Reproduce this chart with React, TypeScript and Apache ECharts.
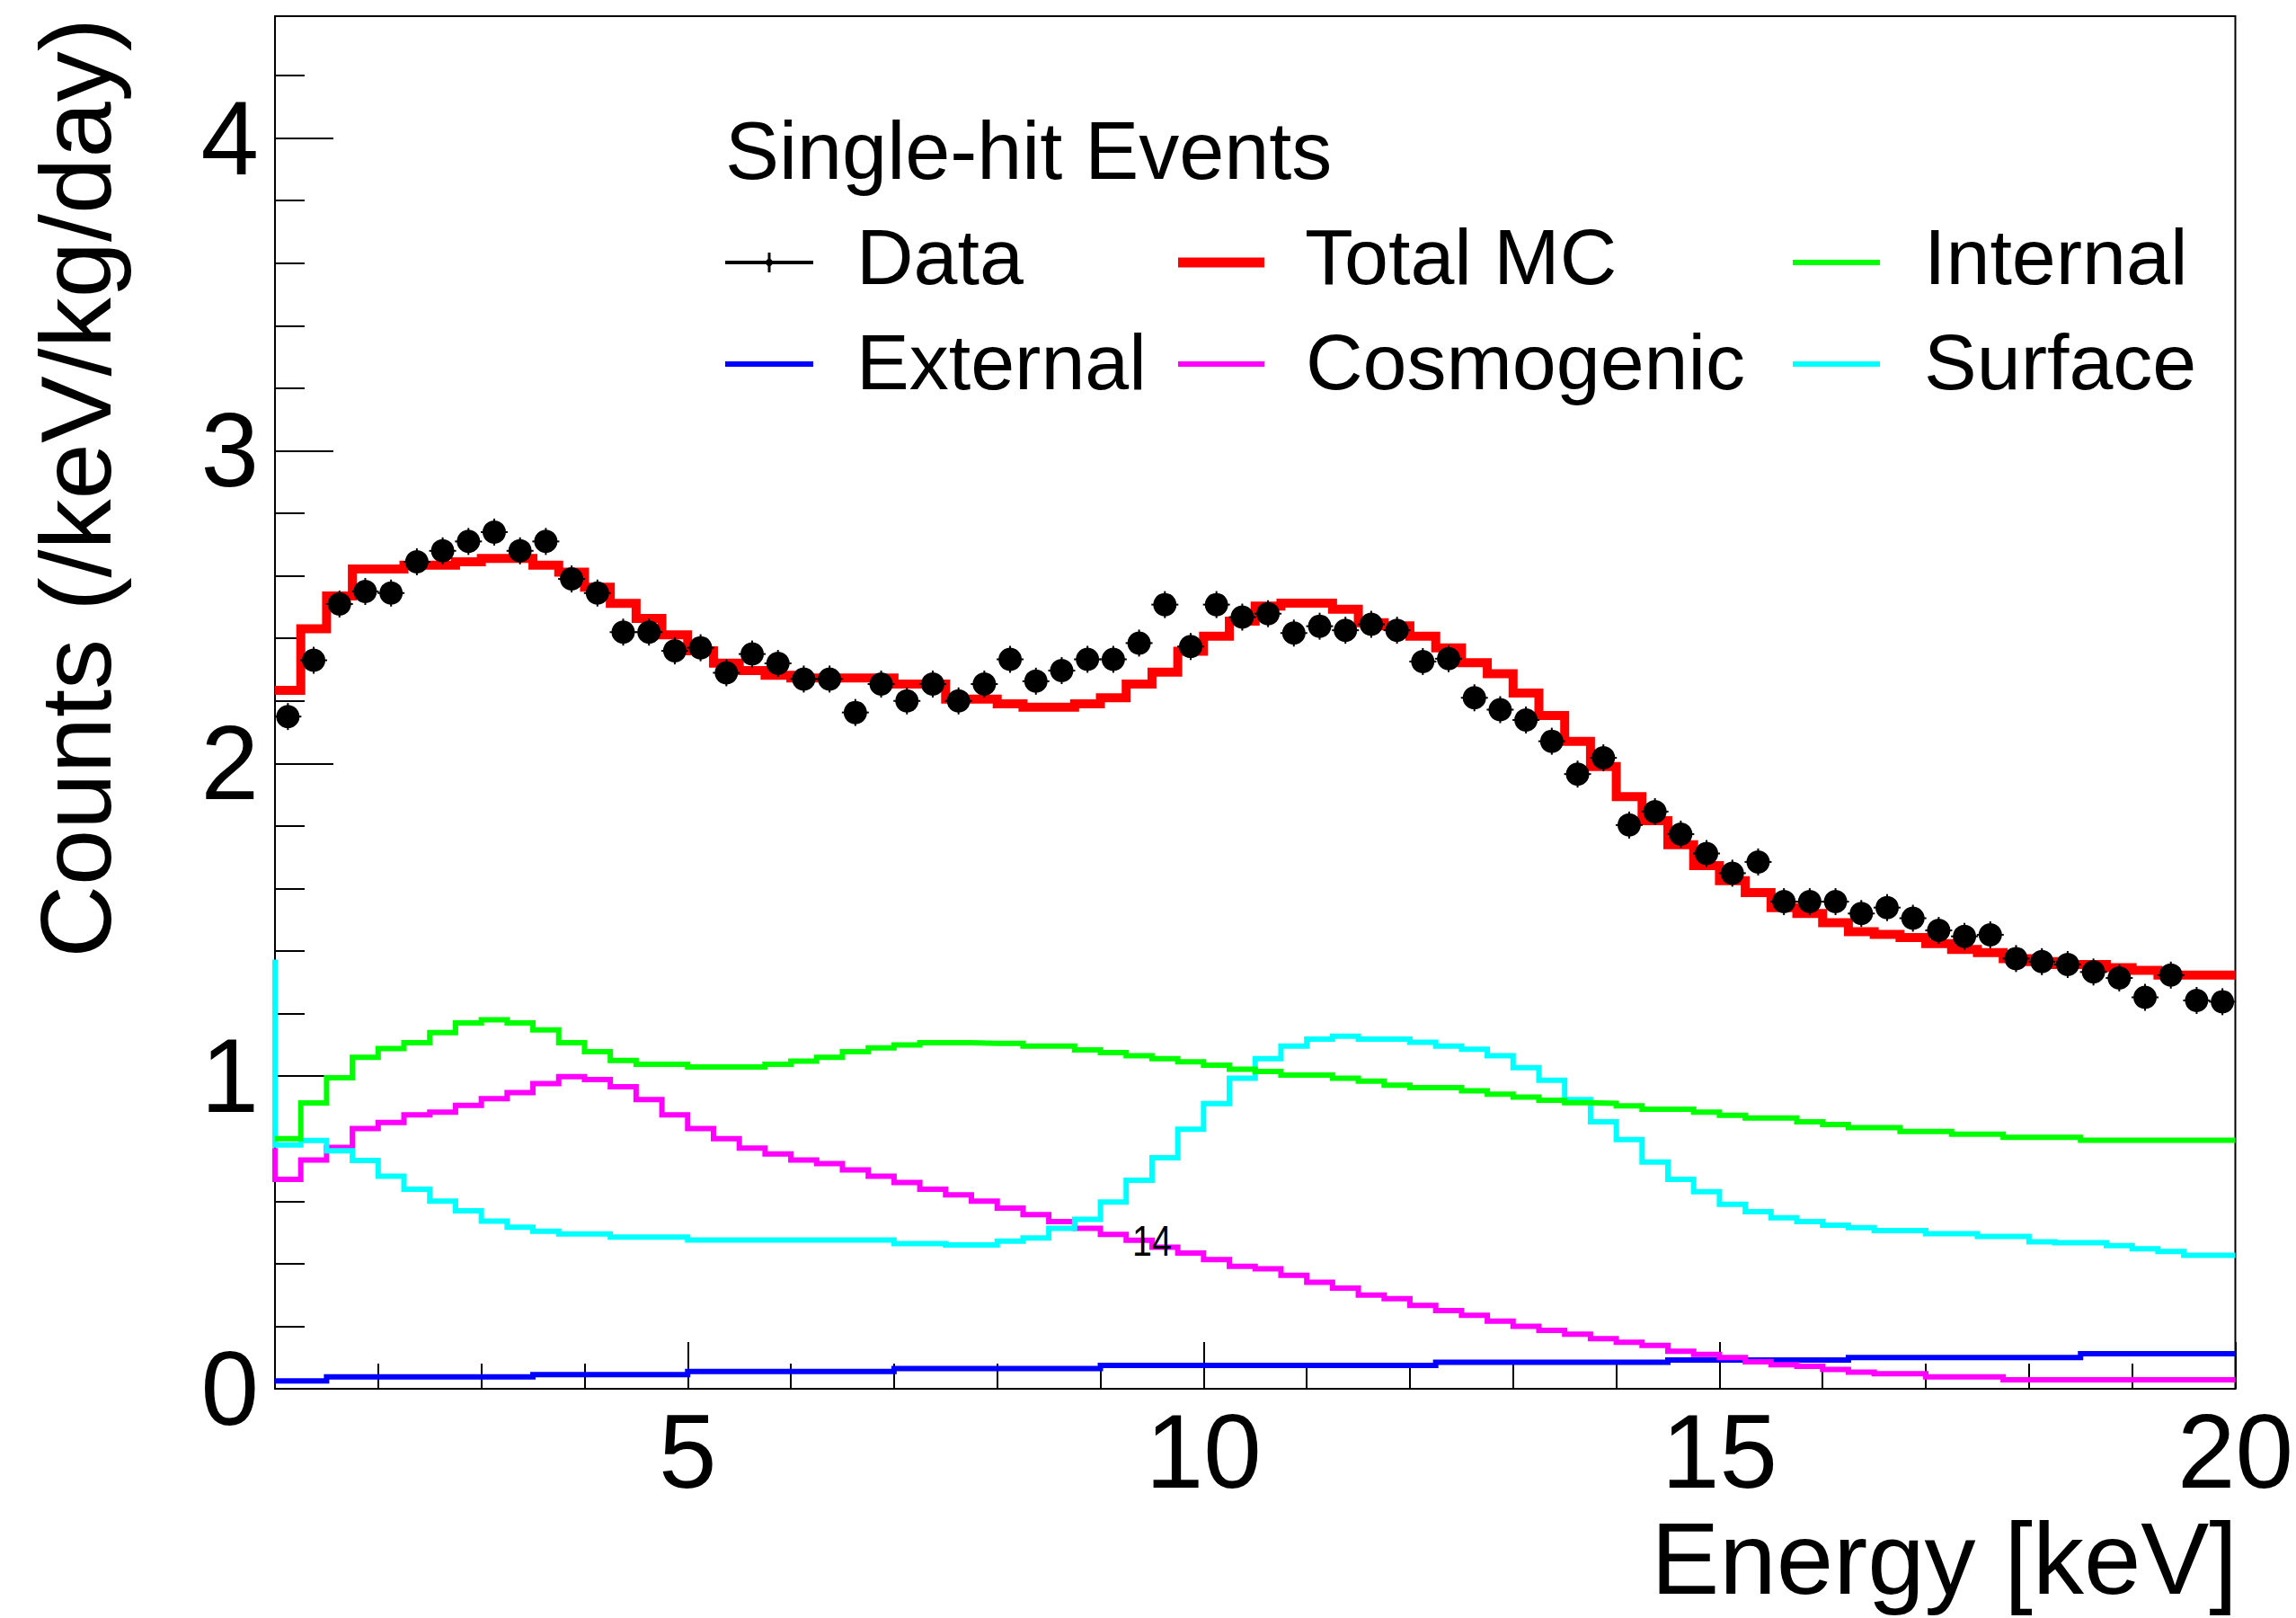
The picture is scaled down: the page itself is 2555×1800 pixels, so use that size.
import React, { useEffect, useRef } from "react";
import * as echarts from "echarts";

// Binning of the histograms (keV)
const E_MIN = 1;
const E_MAX = 20;
const BIN_WIDTH = 0.25;

// Data points (bin by bin, 1.0-20.0 keV, 0.25 keV bins)
const DATA = [
  2.15, 2.33, 2.51, 2.55, 2.545, 2.645, 2.68, 2.71, 2.74, 2.68,
  2.71, 2.59, 2.545, 2.42, 2.42, 2.36, 2.37, 2.29, 2.35, 2.32,
  2.27, 2.27, 2.163, 2.254, 2.2, 2.254, 2.2, 2.254, 2.333, 2.263,
  2.297, 2.333, 2.333, 2.385, 2.508, 2.374, 2.508, 2.468, 2.479, 2.417,
  2.439, 2.426, 2.445, 2.426, 2.326, 2.335, 2.21, 2.172, 2.139, 2.071,
  1.966, 2.018, 1.803, 1.846, 1.774, 1.712, 1.649, 1.685, 1.558, 1.558,
  1.558, 1.52, 1.539, 1.505, 1.466, 1.447, 1.452, 1.376, 1.366, 1.357,
  1.333, 1.314, 1.252, 1.323, 1.242, 1.238,
];

const TOTAL_MC = [
  2.234, 2.431, 2.536, 2.622, 2.622, 2.634, 2.634, 2.645, 2.656, 2.656,
  2.634, 2.612, 2.564, 2.512, 2.464, 2.411, 2.36, 2.321, 2.297, 2.282,
  2.273, 2.273, 2.273, 2.273, 2.254, 2.254, 2.206, 2.206, 2.191, 2.18,
  2.18, 2.191, 2.21, 2.254, 2.292, 2.359, 2.407, 2.455, 2.503, 2.513,
  2.513, 2.493, 2.45, 2.44, 2.407, 2.37, 2.322, 2.287, 2.225, 2.153,
  2.071, 1.99, 1.894, 1.817, 1.74, 1.673, 1.625, 1.587, 1.539, 1.52,
  1.491, 1.462, 1.453, 1.443, 1.424, 1.405, 1.395, 1.376, 1.366, 1.357,
  1.357, 1.347, 1.338, 1.323, 1.323, 1.323,
];

const INTERNAL = [
  0.8, 0.914, 0.995, 1.06, 1.088, 1.107, 1.139, 1.17, 1.18, 1.17,
  1.148, 1.107, 1.078, 1.05, 1.038, 1.038, 1.029, 1.029, 1.029, 1.038,
  1.048, 1.06, 1.078, 1.09, 1.1, 1.107, 1.107, 1.105, 1.105, 1.096,
  1.096, 1.084, 1.075, 1.065, 1.056, 1.046, 1.035, 1.022, 1.015, 1.003,
  1.003, 0.993, 0.984, 0.971, 0.963, 0.963, 0.953, 0.942, 0.933, 0.923,
  0.915, 0.913, 0.905, 0.894, 0.894, 0.885, 0.875, 0.866, 0.866, 0.854,
  0.845, 0.835, 0.835, 0.823, 0.823, 0.814, 0.814, 0.804, 0.804, 0.804,
  0.795, 0.795, 0.795, 0.795, 0.795, 0.795,
];

const EXTERNAL = [
  0.025, 0.025, 0.038, 0.038, 0.038, 0.038, 0.038, 0.038, 0.038, 0.038,
  0.045, 0.045, 0.045, 0.045, 0.045, 0.045, 0.055, 0.055, 0.055, 0.055,
  0.055, 0.055, 0.055, 0.055, 0.065, 0.065, 0.065, 0.065, 0.065, 0.065,
  0.065, 0.065, 0.075, 0.075, 0.075, 0.075, 0.075, 0.075, 0.075, 0.075,
  0.075, 0.075, 0.075, 0.075, 0.075, 0.085, 0.085, 0.085, 0.085, 0.085,
  0.085, 0.085, 0.085, 0.085, 0.092, 0.092, 0.092, 0.092, 0.092, 0.092,
  0.092, 0.1, 0.1, 0.1, 0.1, 0.1, 0.1, 0.1, 0.1, 0.1,
  0.112, 0.112, 0.112, 0.112, 0.112, 0.112,
];

const COSMOGENIC = [
  0.67, 0.732, 0.772, 0.832, 0.852, 0.876, 0.885, 0.906, 0.928, 0.947,
  0.976, 0.998, 0.989, 0.966, 0.925, 0.876, 0.832, 0.8, 0.77, 0.751,
  0.732, 0.72, 0.7, 0.68, 0.66, 0.638, 0.62, 0.6, 0.578, 0.557,
  0.535, 0.513, 0.494, 0.475, 0.453, 0.434, 0.413, 0.392, 0.384, 0.363,
  0.341, 0.322, 0.3, 0.288, 0.267, 0.25, 0.235, 0.216, 0.2, 0.187,
  0.175, 0.16, 0.149, 0.139, 0.12, 0.11, 0.1, 0.086, 0.077, 0.072,
  0.062, 0.053, 0.048, 0.048, 0.038, 0.038, 0.038, 0.029, 0.029, 0.029,
  0.029, 0.029, 0.029, 0.029, 0.029, 0.029,
];

const SURFACE = [
  0.78, 0.794, 0.761, 0.73, 0.68, 0.638, 0.6, 0.569, 0.536, 0.517,
  0.504, 0.495, 0.495, 0.485, 0.485, 0.485, 0.476, 0.476, 0.476, 0.476,
  0.476, 0.476, 0.476, 0.476, 0.464, 0.464, 0.46, 0.46, 0.472, 0.482,
  0.513, 0.542, 0.597, 0.667, 0.739, 0.83, 0.912, 0.993, 1.056, 1.096,
  1.118, 1.128, 1.118, 1.118, 1.108, 1.096, 1.086, 1.065, 1.027, 0.987,
  0.925, 0.854, 0.797, 0.725, 0.67, 0.63, 0.59, 0.566, 0.547, 0.535,
  0.523, 0.515, 0.506, 0.506, 0.496, 0.496, 0.487, 0.487, 0.47, 0.467,
  0.467, 0.458, 0.448, 0.439, 0.427, 0.427,
];

// Value of the bin just below the plotted range (visible as a vertical edge at 1 keV)
const COSMOGENIC_BELOW = 0.77;
const SURFACE_BELOW = 1.373;

// Axes
const Y_MIN = 0;
const Y_MAX = 4.39;
const X_MAJOR = [5, 10, 15, 20];
const X_MINOR = [2, 3, 4, 6, 7, 8, 9, 11, 12, 13, 14, 16, 17, 18, 19];
const Y_MAJOR = [0, 1, 2, 3, 4];
const Y_MINOR = [
  0.2, 0.4, 0.6, 0.8, 1.2, 1.4, 1.6, 1.8, 2.2, 2.4, 2.6, 2.8,
  3.2, 3.4, 3.6, 3.8, 4.2,
];

const X_TITLE = "Energy [keV]";
const Y_TITLE = "Counts (/keV/kg/day)";
const LEGEND_HEADER = "Single-hit Events";
const PAGE_NOTE = "14";

const FONT = "'Liberation Sans', Arial, Helvetica, sans-serif";

function histSteps(vals: number[], below?: number): number[][] {
  const pts: number[][] = [];
  if (below !== undefined) pts.push([E_MIN, below]);
  vals.forEach((v, i) => {
    const lo = E_MIN + i * BIN_WIDTH;
    pts.push([lo, v], [lo + BIN_WIDTH, v]);
  });
  return pts;
}

function binCenters(vals: number[]): number[][] {
  return vals.map((v, i) => [E_MIN + (i + 0.5) * BIN_WIDTH, v]);
}

function stepSeries(name: string, data: number[][], color: string, width: number, z: number) {
  return {
    name,
    type: "line",
    data,
    showSymbol: false,
    symbol: "none",
    lineStyle: { color, width, cap: "butt", join: "miter" },
    z,
    silent: true,
  };
}

function legendText(text: string, x: number, y: number, size: number) {
  return {
    type: "text",
    x,
    y,
    z: 100,
    style: {
      text,
      fill: "#000",
      fontSize: size,
      fontFamily: FONT,
      textAlign: "left",
      textVerticalAlign: "middle",
    },
  };
}

function legendLine(x1: number, x2: number, y: number, color: string, width: number) {
  return {
    type: "line",
    z: 100,
    shape: { x1, y1: y, x2, y2: y },
    style: { stroke: color, lineWidth: width },
  };
}

export default function App() {
  const ref = useRef<HTMLDivElement>(null);

  useEffect(() => {
    if (!ref.current) return;
    const chart = echarts.init(ref.current, undefined, { renderer: "svg" });

    const tickStyle = { color: "#000", width: 2 };
    const legendSize = 88;
    const MARKER_SPIKE = 15; // pixel half-length of the small marker cross (ROOT style)

    const option: any = {
      animation: false,
      backgroundColor: "#ffffff",
      grid: {
        left: 306,
        right: 65,
        top: 18,
        bottom: 255,
        show: true,
        borderColor: "#000",
        borderWidth: 2,
        backgroundColor: "transparent",
      },
      xAxis: [
        {
          type: "value",
          min: E_MIN,
          max: E_MAX,
          axisLine: { show: true, onZero: false, lineStyle: tickStyle },
          axisTick: { show: true, inside: true, length: 52, lineStyle: tickStyle, customValues: X_MAJOR },
          axisLabel: {
            customValues: X_MAJOR,
            margin: 12,
            fontSize: 116,
            color: "#000",
            fontFamily: FONT,
          },
          splitLine: { show: false },
        },
        {
          type: "value",
          min: E_MIN,
          max: E_MAX,
          position: "bottom",
          axisLine: { show: false, onZero: false },
          axisTick: { show: true, inside: true, length: 28, lineStyle: tickStyle, customValues: X_MINOR },
          axisLabel: { show: false },
          splitLine: { show: false },
        },
      ],
      yAxis: [
        {
          type: "value",
          min: Y_MIN,
          max: Y_MAX,
          axisLine: { show: true, onZero: false, lineStyle: tickStyle },
          axisTick: { show: true, inside: true, length: 65, lineStyle: tickStyle, customValues: Y_MAJOR },
          axisLabel: {
            customValues: Y_MAJOR,
            margin: 18,
            fontSize: 116,
            color: "#000",
            fontFamily: FONT,
          },
          splitLine: { show: false },
        },
        {
          type: "value",
          min: Y_MIN,
          max: Y_MAX,
          position: "left",
          axisLine: { show: false, onZero: false },
          axisTick: { show: true, inside: true, length: 33, lineStyle: tickStyle, customValues: Y_MINOR },
          axisLabel: { show: false },
          splitLine: { show: false },
        },
      ],
      series: [
        stepSeries("External", histSteps(EXTERNAL), "#0000ff", 6, 3),
        stepSeries("Cosmogenic", histSteps(COSMOGENIC, COSMOGENIC_BELOW), "#ff00ff", 6, 3),
        stepSeries("Surface", histSteps(SURFACE, SURFACE_BELOW), "#00ffff", 6, 3),
        stepSeries("Internal", histSteps(INTERNAL), "#00ff00", 6, 3),
        stepSeries("Total MC", histSteps(TOTAL_MC), "#ff0000", 10, 4),
        {
          name: "Data spikes",
          type: "custom",
          data: binCenters(DATA),
          z: 6,
          silent: true,
          renderItem: (_params: any, api: any) => {
            const p = api.coord([api.value(0), api.value(1)]);
            return {
              type: "group",
              children: [
                {
                  type: "line",
                  shape: { x1: p[0], y1: p[1] - MARKER_SPIKE, x2: p[0], y2: p[1] + MARKER_SPIKE },
                  style: { stroke: "#000", lineWidth: 2 },
                },
                {
                  type: "line",
                  shape: { x1: p[0] - MARKER_SPIKE, y1: p[1], x2: p[0] + MARKER_SPIKE, y2: p[1] },
                  style: { stroke: "#000", lineWidth: 2 },
                },
              ],
            };
          },
        },
        {
          name: "Data",
          type: "scatter",
          data: binCenters(DATA),
          symbol: "circle",
          symbolSize: 26,
          itemStyle: { color: "#000", opacity: 1 },
          z: 7,
          silent: true,
        },
      ],
      graphic: [
        // axis titles
        {
          type: "text",
          x: 2490,
          y: 1733,
          z: 100,
          style: {
            text: X_TITLE,
            fill: "#000",
            fontSize: 114,
            fontFamily: FONT,
            textAlign: "right",
            textVerticalAlign: "middle",
          },
        },
        {
          type: "text",
          x: 84,
          y: 20,
          rotation: Math.PI / 2,
          z: 100,
          style: {
            text: Y_TITLE,
            fill: "#000",
            fontSize: 112,
            fontFamily: FONT,
            textAlign: "right",
            textVerticalAlign: "middle",
          },
        },
        // legend
        legendText(LEGEND_HEADER, 807, 168, 90),
        // Data entry
        legendLine(807, 905, 292, "#000", 4),
        { type: "line", z: 100, shape: { x1: 856, y1: 281, x2: 856, y2: 303 }, style: { stroke: "#000", lineWidth: 3 } },
        { type: "circle", z: 101, shape: { cx: 856, cy: 292, r: 4 }, style: { fill: "#000" } },
        legendText("Data", 953, 285, legendSize),
        legendLine(1311, 1407, 292, "#ff0000", 11),
        legendText("Total MC", 1452, 285, legendSize),
        legendLine(1995, 2092, 292, "#00ff00", 6),
        legendText("Internal", 2141, 285, legendSize),
        legendLine(807, 905, 405, "#0000ff", 6),
        legendText("External", 953, 402, legendSize),
        legendLine(1311, 1407, 405, "#ff00ff", 6),
        legendText("Cosmogenic", 1453, 402, legendSize),
        legendLine(1995, 2092, 405, "#00ffff", 6),
        legendText("Surface", 2141, 402, legendSize),
        // stray page note
        {
          type: "text",
          x: 1282,
          y: 1380,
          scaleX: 0.82,
          z: 100,
          style: {
            text: PAGE_NOTE,
            fill: "#000",
            fontSize: 48,
            fontFamily: FONT,
            textAlign: "center",
            textVerticalAlign: "middle",
          },
        },
      ],
    };

    chart.setOption(option);
    return () => {
      chart.dispose();
    };
  }, []);

  return (
    <div
      ref={ref}
      style={{ position: "fixed", left: 0, top: 0, width: 2555, height: 1800, background: "#fff" }}
    />
  );
}
